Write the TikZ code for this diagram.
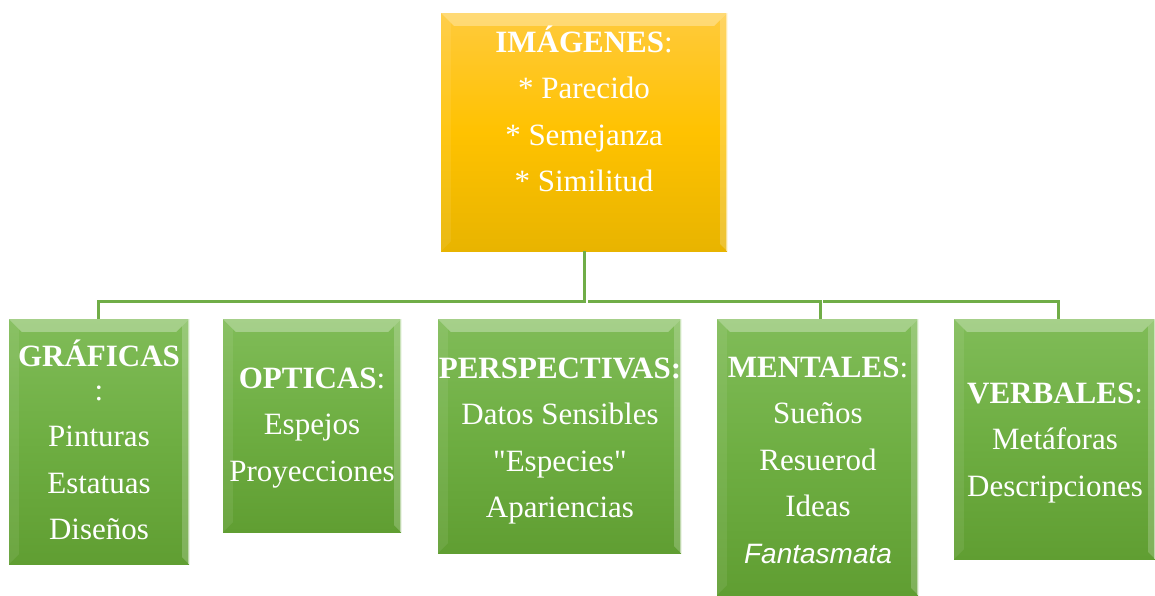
\documentclass[tikz,border=0pt]{standalone}
\usepackage{fontspec}
\setmainfont{Liberation Serif}
\setsansfont{Liberation Sans}
\definecolor{gtop}{RGB}{128,188,88}
\definecolor{gmid}{RGB}{110,174,66}
\definecolor{gbot}{RGB}{96,158,50}
\definecolor{ytop}{RGB}{255,202,60}
\definecolor{ymid}{RGB}{255,194,0}
\definecolor{ybot}{RGB}{232,180,0}
\definecolor{lineg}{RGB}{112,173,71}
\newcommand\lns[1]{\begin{tabular}[t]{@{}c@{}}#1\end{tabular}}
\newcommand\bevel[1]{%
 \fill[white,opacity=.3] (#1.north west) -- (#1.north east) -- ([shift={(-13,13)}]#1.north east) -- ([shift={(13,13)}]#1.north west) -- cycle;
 \fill[white,opacity=.08] (#1.north west) -- ([shift={(10,10)}]#1.north west) -- ([shift={(10,-10)}]#1.south west) -- (#1.south west) -- cycle;
 \fill[white,opacity=.2] (#1.north east) -- ([shift={(-7,7)}]#1.north east) -- ([shift={(-7,-7)}]#1.south east) -- (#1.south east) -- cycle;
 \draw[white,opacity=.5,line width=1.2] ([xshift=-1]#1.north east) -- ([xshift=-1]#1.south east);
}
\begin{document}
\begin{tikzpicture}[x=1pt,y=-1pt,
  box/.style={rectangle,inner sep=0,draw=none},
  gbox/.style={box,top color=gtop,bottom color=gbot,middle color=gmid},
  ybox/.style={box,top color=ytop,bottom color=ybot,middle color=ymid},
  txt/.style={text=white,inner sep=0,anchor=base,font=\fontsize{31}{46.5}\selectfont},
  conn/.style={draw=lineg,line width=3}]
\useasboundingbox (0,0) rectangle (1155,595);
% boxes
\node[ybox,minimum width=286,minimum height=238] (img) at (584,132) {};
\node[gbox,minimum width=180,minimum height=245] (gra) at (99,441.5) {};
\node[gbox,minimum width=178,minimum height=213] (opt) at (312,425.5) {};
\node[gbox,minimum width=243,minimum height=234] (per) at (559.5,436) {};
\node[gbox,minimum width=201,minimum height=276] (men) at (817.5,457) {};
\node[gbox,minimum width=201,minimum height=240] (ver) at (1054.5,439) {};
\bevel{img}\bevel{gra}\bevel{opt}\bevel{per}\bevel{men}\bevel{ver}
% connectors
\coordinate (bus) at (0,301);
\draw[conn] (img.south) -- (img.south |- bus) -| ([xshift=-1]gra.north);
\draw[conn] ([xshift=4]img.south |- bus) -| ([xshift=2.5]men.north);
\draw[conn] ([xshift=5.5]men.north |- bus) -| ([xshift=3.5]ver.north);
% texts
\node[txt] (imgt) at (584,52) {\lns{\textbf{IMÁGENES}:\\ \relax* Parecido\\ \relax* Semejanza\\ \relax* Similitud}};
\node[txt] (grat) at (99,366) {\lns{\textbf{GRÁFICAS}\\[-12.5pt] :\\ Pinturas\\ Estatuas\\ Diseños}};
\node[txt] (optt) at (312,388) {\lns{\textbf{OPTICAS}:\\ Espejos\\ Proyecciones}};
\node[txt] (pert) at (560,378) {\lns{\textbf{PERSPECTIVAS:}\\ Datos Sensibles\\ \textquotedbl Especies\textquotedbl\\ Apariencias}};
\node[txt] (ment) at (818,377) {\lns{\textbf{MENTALES}:\\ Sueños\\ Resuerod\\ Ideas\\ {\sffamily\itshape\fontsize{28}{46.5}\selectfont Fantasmata}}};
\node[txt] (vert) at (1055,403) {\lns{\textbf{VERBALES}:\\ Metáforas\\ Descripciones}};
\end{tikzpicture}
\end{document}
